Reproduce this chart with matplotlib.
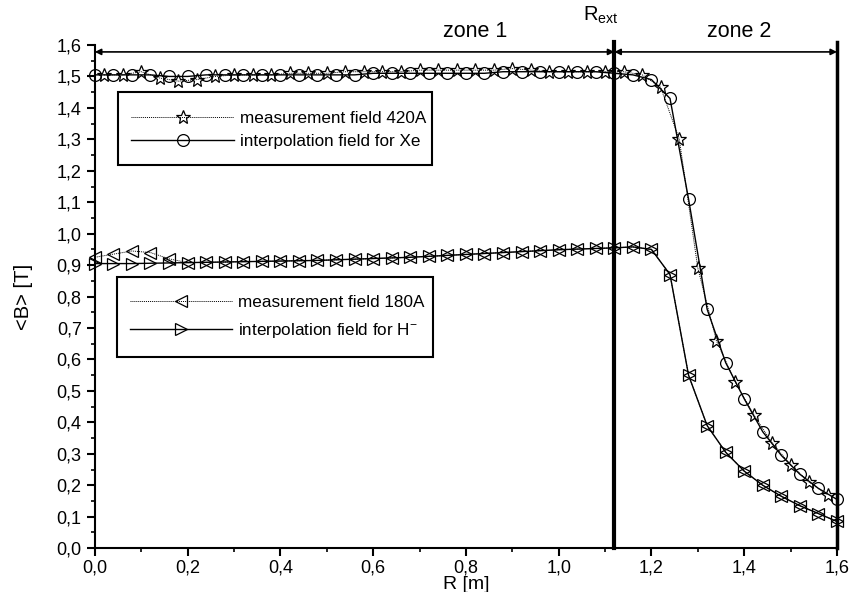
import matplotlib.pyplot as plt
from matplotlib.ticker import MultipleLocator, FuncFormatter
from matplotlib.patches import Rectangle

plt.rcParams['font.family'] = ['Liberation Sans', 'DejaVu Sans']
plt.rcParams['mathtext.default'] = 'regular'

# 420A measurement (stars)
r_xe_meas = [0.02, 0.06, 0.10, 0.14, 0.18, 0.22, 0.26, 0.30, 0.34, 0.38, 0.42, 0.46, 0.50, 0.54,
             0.58, 0.62, 0.66, 0.70, 0.74, 0.78, 0.82, 0.86, 0.90, 0.94, 0.98, 1.02, 1.06, 1.10,
             1.14, 1.18, 1.22, 1.26, 1.30, 1.34, 1.38, 1.42, 1.46, 1.50, 1.54, 1.58]
b_xe_meas = [1.505, 1.505, 1.515, 1.495, 1.485, 1.49, 1.50, 1.505, 1.505, 1.505, 1.51, 1.51, 1.51, 1.515,
             1.515, 1.515, 1.515, 1.52, 1.52, 1.52, 1.52, 1.52, 1.525, 1.52, 1.515, 1.515, 1.515, 1.515,
             1.515, 1.505, 1.465, 1.30, 0.89, 0.66, 0.53, 0.425, 0.335, 0.265, 0.21, 0.17]

# interpolation for Xe (circles)
r_xe_int = [0.00, 0.04, 0.08, 0.12, 0.16, 0.20, 0.24, 0.28, 0.32, 0.36, 0.40, 0.44, 0.48, 0.52,
            0.56, 0.60, 0.64, 0.68, 0.72, 0.76, 0.80, 0.84, 0.88, 0.92, 0.96, 1.00, 1.04, 1.08,
            1.12, 1.16, 1.20, 1.24, 1.28, 1.32, 1.36, 1.40, 1.44, 1.48, 1.52, 1.56, 1.60]
b_xe_int = [1.505, 1.505, 1.505, 1.505, 1.50, 1.50, 1.505, 1.505, 1.505, 1.505, 1.505, 1.505, 1.505, 1.505,
            1.505, 1.51, 1.51, 1.51, 1.51, 1.51, 1.51, 1.51, 1.515, 1.515, 1.515, 1.515, 1.515, 1.515,
            1.51, 1.505, 1.49, 1.43, 1.11, 0.76, 0.59, 0.475, 0.37, 0.295, 0.235, 0.19, 0.155]

# 180A measurement (left triangles) and interpolation for H- (right triangles)
r_h = [0.00, 0.04, 0.08, 0.12, 0.16, 0.20, 0.24, 0.28, 0.32, 0.36, 0.40, 0.44, 0.48, 0.52,
       0.56, 0.60, 0.64, 0.68, 0.72, 0.76, 0.80, 0.84, 0.88, 0.92, 0.96, 1.00, 1.04, 1.08,
       1.12, 1.16, 1.20, 1.24, 1.28, 1.32, 1.36, 1.40, 1.44, 1.48, 1.52, 1.56, 1.60]
b_h_meas = [0.925, 0.935, 0.945, 0.94, 0.92, 0.908, 0.909, 0.910, 0.911, 0.912, 0.913, 0.914, 0.915, 0.917,
            0.919, 0.921, 0.923, 0.925, 0.928, 0.931, 0.934, 0.937, 0.940, 0.943, 0.946, 0.949, 0.951, 0.953,
            0.955, 0.958, 0.95, 0.87, 0.55, 0.39, 0.305, 0.245, 0.20, 0.165, 0.135, 0.11, 0.085]
b_h_int = [0.905, 0.905, 0.905, 0.906, 0.907, 0.908, 0.909, 0.910, 0.911, 0.912, 0.913, 0.914, 0.915, 0.917,
           0.919, 0.921, 0.923, 0.925, 0.928, 0.931, 0.934, 0.937, 0.940, 0.943, 0.946, 0.949, 0.951, 0.953,
           0.955, 0.958, 0.95, 0.87, 0.55, 0.39, 0.305, 0.245, 0.20, 0.165, 0.135, 0.11, 0.085]

r_ext = 1.12

fig = plt.figure(figsize=(8.62, 5.92), dpi=100)
ax = fig.add_axes([0.110, 0.074, 0.861, 0.850])

ms = dict(markerfacecolor='none', markeredgecolor='black', markeredgewidth=0.9, clip_on=False)
l1, = ax.plot(r_xe_meas, b_xe_meas, color='black', lw=0.7, ls=(0, (1, 1)), marker='*', markersize=10, zorder=4, **ms)
l2, = ax.plot(r_xe_int, b_xe_int, color='black', lw=1.0, marker='o', markersize=8.5, zorder=3, **ms)
l3, = ax.plot(r_h, b_h_meas, color='black', lw=0.7, ls=(0, (1, 1)), marker='<', markersize=8.5, zorder=4, **ms)
l4, = ax.plot(r_h, b_h_int, color='black', lw=1.0, marker='>', markersize=8.5, zorder=3, **ms)

ax.set_xlim(0, 1.6)
ax.set_ylim(0, 1.6)

# R_ext line and zone arrows
ax.plot([r_ext, r_ext], [0, 1.61], color='black', lw=3, clip_on=False, zorder=5)
arrow = dict(arrowstyle='<|-|>', color='black', lw=1.2, shrinkA=0, shrinkB=0, mutation_scale=9)
ax.annotate('', xy=(0, 1.578), xytext=(r_ext, 1.578), arrowprops=arrow, annotation_clip=False)
ax.annotate('', xy=(r_ext, 1.578), xytext=(1.6, 1.578), arrowprops=arrow, annotation_clip=False)
ax.text(0.82, 1.643, 'zone 1', fontsize=15.5, ha='center', va='center')
ax.text(1.39, 1.643, 'zone 2', fontsize=15.5, ha='center', va='center')
ax.text(1.09, 1.695, r'R$_{ext}$', fontsize=14.5, ha='center', va='center')

# axes styling
ax.spines['top'].set_visible(False)
ax.spines['left'].set_linewidth(1.5)
ax.spines['bottom'].set_linewidth(1.5)
ax.spines['right'].set_linewidth(2.5)
ax.spines['right'].set_bounds(0, 1.61)
ax.xaxis.set_major_locator(MultipleLocator(0.2))
ax.xaxis.set_minor_locator(MultipleLocator(0.1))
ax.yaxis.set_major_locator(MultipleLocator(0.1))
ax.yaxis.set_minor_locator(MultipleLocator(0.05))
comma = FuncFormatter(lambda v, p: f'{v:.1f}'.replace('.', ','))
ax.xaxis.set_major_formatter(comma)
ax.yaxis.set_major_formatter(comma)
ax.tick_params(which='major', direction='out', length=6, width=1.5, labelsize=13)
ax.tick_params(which='minor', direction='out', length=3, width=1.2)
ax.tick_params(axis='x', pad=2)
ax.tick_params(top=False, right=False)
ax.set_xlabel('R [m]', fontsize=14, labelpad=0)
ax.set_ylabel('<B> [T]', fontsize=14.5, labelpad=17)

# legend boxes
ax.add_patch(Rectangle((0.031, 0.761), 0.423, 0.145, transform=ax.transAxes, fill=True,
                       facecolor='white', edgecolor='black', lw=1.5, zorder=6))
ax.add_patch(Rectangle((0.030, 0.380), 0.426, 0.159, transform=ax.transAxes, fill=True,
                       facecolor='white', edgecolor='black', lw=1.5, zorder=6))

leg1 = ax.legend([l1, l2], ['measurement field 420A', 'interpolation field for Xe'],
                 loc='upper left', bbox_to_anchor=(0.040, 0.883), frameon=False, fontsize=12.3,
                 handlelength=6.0, handletextpad=0.35, labelspacing=0.5, borderaxespad=0)
leg1.set_zorder(7)
ax.add_artist(leg1)
leg2 = ax.legend([l3, l4], ['measurement field 180A', 'interpolation field for H$^{-}$'],
                 loc='upper left', bbox_to_anchor=(0.038, 0.517), frameon=False, fontsize=12.3,
                 handlelength=6.0, handletextpad=0.35, labelspacing=0.65, borderaxespad=0)
leg2.set_zorder(7)

fig.savefig('out.png', dpi=100)
